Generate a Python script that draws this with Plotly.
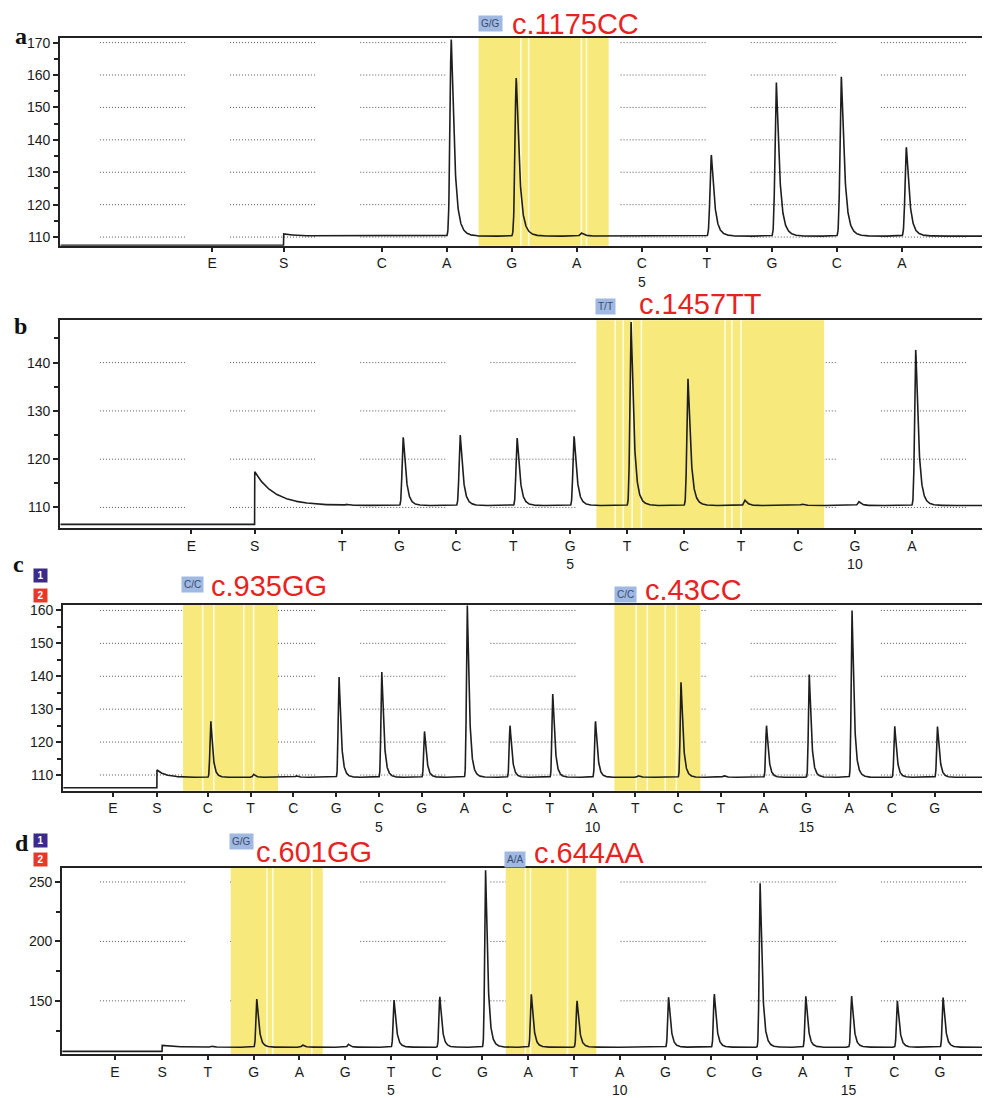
import numpy as np
import plotly.graph_objects as go

W, H = 990, 1098          # target picture size
OFF = 8                   # page body margin of the browser
FW, FH = W - OFF, H - OFF # figure size

# ---------------- data ----------------
# panel a
a_nuc = ["C", "A", "G", "A", "C", "T", "G", "C", "A"]
a_peak = [110.4, 171.0, 159.3, 111.3, 110.5, 135.4, 157.7, 159.5, 137.8]
a_es = [-1.61, -0.51]          # positions of E and S dispensations
a_base = [107.5, 110.3]        # baseline before / after substrate
a_spike = 111.0
a_yticks = [110, 120, 130, 140, 150, 160, 170]
a_hl = [(2.49, 4.49)]
a_white = [3.14, 3.26, 4.07, 4.15]
a_geno = ["G/G"]
a_mut = ["c.1175CC"]

# panel b
b_nuc = ["T", "G", "C", "T", "G", "T", "C", "T", "C", "G", "A"]
b_peak = [110.6, 124.6, 125.0, 124.4, 124.8, 148.4, 136.7, 111.5, 110.7, 111.2, 142.8]
b_es = [-1.65, -0.54]
b_base = [106.5, 110.4]
b_spike = 117.4
b_yticks = [110, 120, 130, 140]
b_hl = [(5.46, 9.46)]
b_white = [5.79, 5.93, 6.09, 6.25, 7.72, 7.84, 8.0]
b_geno = ["T/T"]
b_mut = ["c.1457TT"]

# panel c
c_nuc = ["C", "T", "C", "G", "C", "G", "A", "C", "T", "A", "T", "C", "T", "A", "G", "A", "C", "G"]
c_peak = [126.3, 110.2, 109.8, 139.8, 141.3, 123.3, 161.5, 125.0, 134.7, 126.3,
          109.8, 138.3, 109.8, 125.0, 140.7, 160.0, 124.8, 124.8]
c_es = [-1.22, -0.19]
c_base = [106.1, 109.3]
c_spike = 111.5
c_yticks = [110, 120, 130, 140, 150, 160]
c_hl = [(0.42, 2.64), (10.51, 12.52)]
c_white = [0.88, 1.14, 1.84, 2.07, 11.02, 11.28, 11.70, 11.96]
c_geno = ["C/C", "C/C"]
c_mut = ["c.935GG", "c.43CC"]

# panel d
d_nuc = ["T", "G", "A", "G", "T", "C", "G", "A", "T", "A", "G", "C", "G", "A", "T", "C", "G"]
d_peak = [112.0, 151.7, 113.0, 113.5, 150.8, 153.3, 260.0, 155.8, 150.0, 111.5,
          153.3, 155.8, 249.0, 154.0, 154.0, 150.0, 153.0]
d_es = [-1.03, 0.0]
d_base = [107.5, 111.0]
d_spike = 112.5
d_yticks = [150, 200, 250]
d_hl = [(1.50, 3.51), (7.51, 9.49)]
d_white = [2.29, 2.42, 3.27, 7.94, 8.05, 8.86]
d_geno = ["G/G", "A/A"]
d_mut = ["c.601GG", "c.644AA"]

# ---------------- layout geometry (pixels in the picture) ----------------
panels = [
    dict(name="a", nuc=a_nuc, peak=a_peak, es=a_es, base=a_base, spike=a_spike, tau=0.2,
         yt=a_yticks, minor=5, hl=a_hl, white=a_white, geno=a_geno, mut=a_mut,
         px=(60, 988), py=(35, 245), xr=(-3.95, 10.31), yr=(107.3, 171.5),
         geno_xy=[(491, 21)], mut_xy=[(512, 21)], lab_xy=(21, 33), num=None),
    dict(name="b", nuc=b_nuc, peak=b_peak, es=b_es, base=b_base, spike=b_spike, tau=0.35,
         yt=b_yticks, minor=5, hl=b_hl, white=b_white, geno=b_geno, mut=b_mut,
         px=(60, 988), py=(320, 530), xr=(-3.96, 12.32), yr=(105.7, 148.8),
         geno_xy=[(606, 306)], mut_xy=[(639, 304)], lab_xy=(21, 326), num=None),
    dict(name="c", nuc=c_nuc, peak=c_peak, es=c_es, base=c_base, spike=c_spike, tau=0.2,
         yt=c_yticks, minor=5, hl=c_hl, white=c_white, geno=c_geno, mut=c_mut,
         px=(63, 989), py=(607, 795), xr=(-2.39, 19.25), yr=(105.2, 161.8),
         geno_xy=[(193, 587), (626, 597)], mut_xy=[(210, 588), (645, 592)], lab_xy=(19, 566),
         num=[(41, 578), (41, 598)]),
    dict(name="d", nuc=d_nuc, peak=d_peak, es=d_es, base=d_base, spike=d_spike, tau=0.3,
         yt=d_yticks, minor=25, hl=d_hl, white=d_white, geno=d_geno, mut=d_mut,
         px=(62, 989), py=(873, 1061), xr=(-2.19, 18.05), yr=(105.0, 261.7),
         geno_xy=[(242, 846), (516, 864)], mut_xy=[(255, 857), (534, 858)], lab_xy=(22, 848),
         num=[(41, 845), (41, 864)]),
]

FONT = "Liberation Sans, Arial, sans-serif"
YELLOW = "#f8e97c"


def pxx(x):
    return (x - OFF) / FW


def pxy(y):
    return 1 - (y - OFF) / FH


def signal(nuc, peak, es, base, spike, tau, xr):
    x = np.arange(xr[0] + 0.01, xr[1] - 0.01, 0.003)
    s = es[1]
    y = np.where(x < s, base[0], base[1] + (spike - base[1]) * np.exp(-np.clip(x - s, 0, None) / tau))
    for i, h in enumerate(peak):
        x0 = i + 1 + 0.07
        t = x - x0
        amp = h - base[1]
        rise = np.exp(-(t ** 2) / (2 * 0.02 ** 2))
        tt = np.clip(t, 0, None)
        decay = 0.55 * np.exp(-(tt / 0.05) ** 1.3) + 0.45 * np.exp(-tt / 0.07)
        y = y + amp * np.where(t < 0, rise, decay)
    return x, y


fig = go.Figure()
shapes = []
annotations = []
layout_axes = {}

for k, p in enumerate(panels):
    n = "" if k == 0 else str(k + 1)
    xa, ya = "x" + n, "y" + n
    x, y = signal(p["nuc"], p["peak"], p["es"], p["base"], p["spike"], p["tau"], p["xr"])
    fig.add_trace(go.Scatter(x=x, y=y, mode="lines", xaxis=xa, yaxis=ya,
                             line=dict(color="#1e1e1e", width=1.6), hoverinfo="skip",
                             showlegend=False))

    tickvals = list(p["es"]) + [i + 1 for i in range(len(p["nuc"]))]
    ticktext = ["E", "S"] + [c + ("<br>%d" % (i + 1) if (i + 1) % 5 == 0 else "")
                             for i, c in enumerate(p["nuc"])]
    L, R = p["px"]
    T, B = p["py"]
    layout_axes["xaxis" + n] = dict(
        domain=[pxx(L), pxx(R)], range=list(p["xr"]), anchor=ya,
        tickmode="array", tickvals=tickvals, ticktext=ticktext,
        ticks="outside", ticklen=4, tickwidth=1.5, tickcolor="#222",
        showline=True, linecolor="#222", linewidth=1.6, mirror=True,
        showgrid=False, zeroline=False, fixedrange=True,
        tickfont=dict(family=FONT, size=14, color="#1a1a1a"))
    layout_axes["yaxis" + n] = dict(
        domain=[pxy(B), pxy(T)], range=list(p["yr"]), anchor=xa,
        tickmode="array", tickvals=p["yt"], ticktext=[str(v) for v in p["yt"]],
        ticks="outside", ticklen=5, tickwidth=1.5, tickcolor="#222",
        minor=dict(ticks="outside", ticklen=4, tickwidth=1.5, tickcolor="#222",
                   dtick=p["minor"], tick0=0, showgrid=False),
        showline=True, linecolor="#222", linewidth=1.6, mirror=True,
        showgrid=False, zeroline=False, fixedrange=True,
        tickfont=dict(family=FONT, size=14, color="#1a1a1a"))

    # dotted, segmented grid lines (drawn first so yellow covers them)
    for gv in p["yt"]:
        for j in range(7):
            s0 = 100 + 130.3 * j
            s1 = s0 + 86
            shapes.append(dict(type="line", xref=xa + " domain", yref=ya,
                               x0=(s0 - L) / (R - L), x1=(s1 - L) / (R - L), y0=gv, y1=gv,
                               line=dict(color="#555555", width=1, dash="1px,2px"),
                               layer="below"))
    for (h0, h1) in p["hl"]:
        shapes.append(dict(type="rect", xref=xa, yref=ya + " domain", x0=h0, x1=h1, y0=0, y1=1,
                           fillcolor=YELLOW, line=dict(width=0), layer="below"))
    for wv in p["white"]:
        shapes.append(dict(type="line", xref=xa, yref=ya + " domain", x0=wv, x1=wv, y0=0, y1=1,
                           line=dict(color="#fffbe0", width=1.6), layer="below"))

    # genotype boxes and mutation labels
    for g, (gx, gy) in zip(p["geno"], p["geno_xy"]):
        annotations.append(dict(xref="paper", yref="paper", x=pxx(gx), y=pxy(gy), text=g,
                                showarrow=False, xanchor="center", yanchor="middle",
                                bgcolor="#9fb9e2", borderpad=2,
                                font=dict(family=FONT, size=10, color="#3b4a6e")))
    for m, (mx, my) in zip(p["mut"], p["mut_xy"]):
        annotations.append(dict(xref="paper", yref="paper", x=pxx(mx), y=pxy(my), text=m,
                                showarrow=False, xanchor="left", yanchor="middle",
                                height=28, borderpad=0,
                                font=dict(family=FONT, size=29, color="#e8231f")))
    # panel letter
    lx, ly = p["lab_xy"]
    annotations.append(dict(xref="paper", yref="paper", x=pxx(lx), y=pxy(ly),
                            text="<b>%s</b>" % p["name"], showarrow=False,
                            xanchor="center", yanchor="middle",
                            font=dict(family="Liberation Serif, Times New Roman, serif",
                                      size=24, color="#111")))
    if p["num"]:
        for (nx, ny), txt, col in zip(p["num"], ["1", "2"], ["#3b2a8c", "#e53a2a"]):
            annotations.append(dict(xref="paper", yref="paper", x=pxx(nx), y=pxy(ny),
                                    text="<b>%s</b>" % txt, showarrow=False,
                                    xanchor="center", yanchor="middle", bgcolor=col,
                                    borderpad=1, width=11, height=11,
                                    font=dict(family=FONT, size=10, color="white")))

fig.update_layout(
    width=FW, height=FH, margin=dict(l=0, r=0, t=0, b=0),
    paper_bgcolor="white", plot_bgcolor="white",
    shapes=shapes, annotations=annotations, showlegend=False,
    **layout_axes)

fig.write_html("out.html")
